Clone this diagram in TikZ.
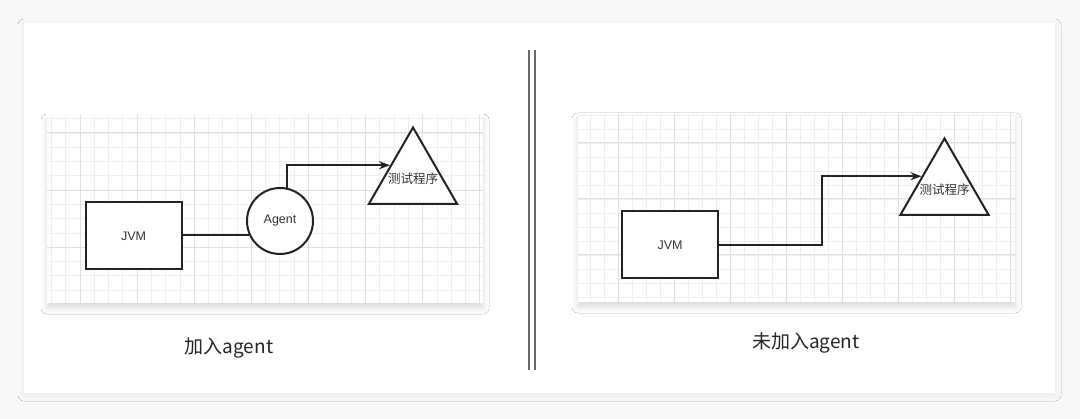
\documentclass[tikz,border=0pt]{standalone}
\usepackage{fontspec}
\setmainfont{Liberation Sans}
\newfontfamily\cjk{Noto Sans CJK SC}
\usetikzlibrary{arrows.meta,shapes.geometric,shadows.blur}
\definecolor{gridminor}{HTML}{EEEEEE}
\definecolor{gridmajor}{HTML}{E0E0E0}
\definecolor{inkline}{HTML}{222222}
\definecolor{divider}{HTML}{6A6A6A}
\definecolor{pagebg}{HTML}{F8F8F8}

\begin{document}
\begin{tikzpicture}[x=1pt, y=-1pt,
    box/.style={draw=inkline, line width=2pt, fill=white, minimum width=96pt, minimum height=67pt, inner sep=0pt, text=black!80, font=\fontsize{12.5}{14}\selectfont},
    agentnode/.style={circle, draw=inkline, line width=2pt, fill=white, minimum size=66pt, inner sep=0pt, text=black!80, font=\fontsize{12.5}{14}\selectfont},
    target/.style={regular polygon, regular polygon sides=3, draw=inkline, line width=2pt, fill=white, minimum size=102pt, inner sep=0pt,
      label={[text=black!80, font=\cjk\fontsize{12.5}{14}\selectfont]center:#1}},
    link/.style={draw=inkline, line width=2pt},
    flow/.style={link, -{Stealth[length=11pt, width=8pt]}},
    caption/.style={text=black!85, font=\cjk\fontsize{19}{22}\selectfont},
    panel/.style={fill=white, blur shadow={shadow xshift=0pt, shadow yshift=-5pt, shadow blur radius=6pt, shadow opacity=15}},
    minor/.style={draw=gridminor, line width=0.8pt},
    major/.style={draw=gridmajor, line width=1pt}]
\useasboundingbox (0,0) rectangle (1080,419);
\fill[pagebg] (0,0) rectangle (1080,419);
\fill[white, blur shadow={shadow xshift=0pt, shadow yshift=-2pt, shadow blur radius=6pt, shadow opacity=6}] (24,23) rectangle (1055,393);

\path[panel] (47,115) rectangle (483,303);
\begin{scope}
  \clip (47,115) rectangle (483,303);
  \foreach \i in {0,...,30} \draw[minor] ({51.4+14.28*\i},115) -- ++(0,188);
  \foreach \j in {0,...,13} \draw[minor] (47,{118.7+14.28*\j}) -- ++(436,0);
  \foreach \i in {0,...,7} \draw[major] ({80.2+57.1*\i},115) -- ++(0,188);
  \foreach \j in {0,...,3} \draw[major] (47,{133+57.1*\j}) -- ++(436,0);
\end{scope}

\path[panel] (578,114) rectangle (1015,302);
\begin{scope}
  \clip (578,114) rectangle (1015,302);
  \foreach \i in {0,...,31} \draw[minor] ({576+14*\i},114) -- ++(0,188);
  \foreach \j in {0,...,13} \draw[minor] (578,{115+14*\j}) -- ++(437,0);
  \foreach \i in {0,...,7} \draw[major] ({618+56*\i},114) -- ++(0,188);
  \foreach \j in {0,...,3} \draw[major] (578,{143+56*\j}) -- ++(437,0);
\end{scope}

\draw[divider, line width=2pt] (528.5,50) -- (528.5,370);
\draw[divider, line width=2pt] (534.5,50) -- (534.5,370);

\node[box] (jvm) at (133.5,236) {JVM};
\node[agentnode] (agent) at (280,221) {Agent};
\node[target=测试程序] (prog) at (413,178.5) {};
\draw[link] (agent.205 -| jvm.east) -- (agent.205);
\draw[flow] (agent.78) |- (prog.side 1);
\node[caption] (capa) at (229,348) {加入agent};

\node[box] (jvm2) at (670,245) {JVM};
\node[target=测试程序] (prog2) at (944.5,189.5) {};
\draw[flow] (jvm2.east) -- ++(103,0) |- (prog2.side 1);
\node[caption] (capb) at (806,343) {未加入agent};
\end{tikzpicture}
\end{document}
